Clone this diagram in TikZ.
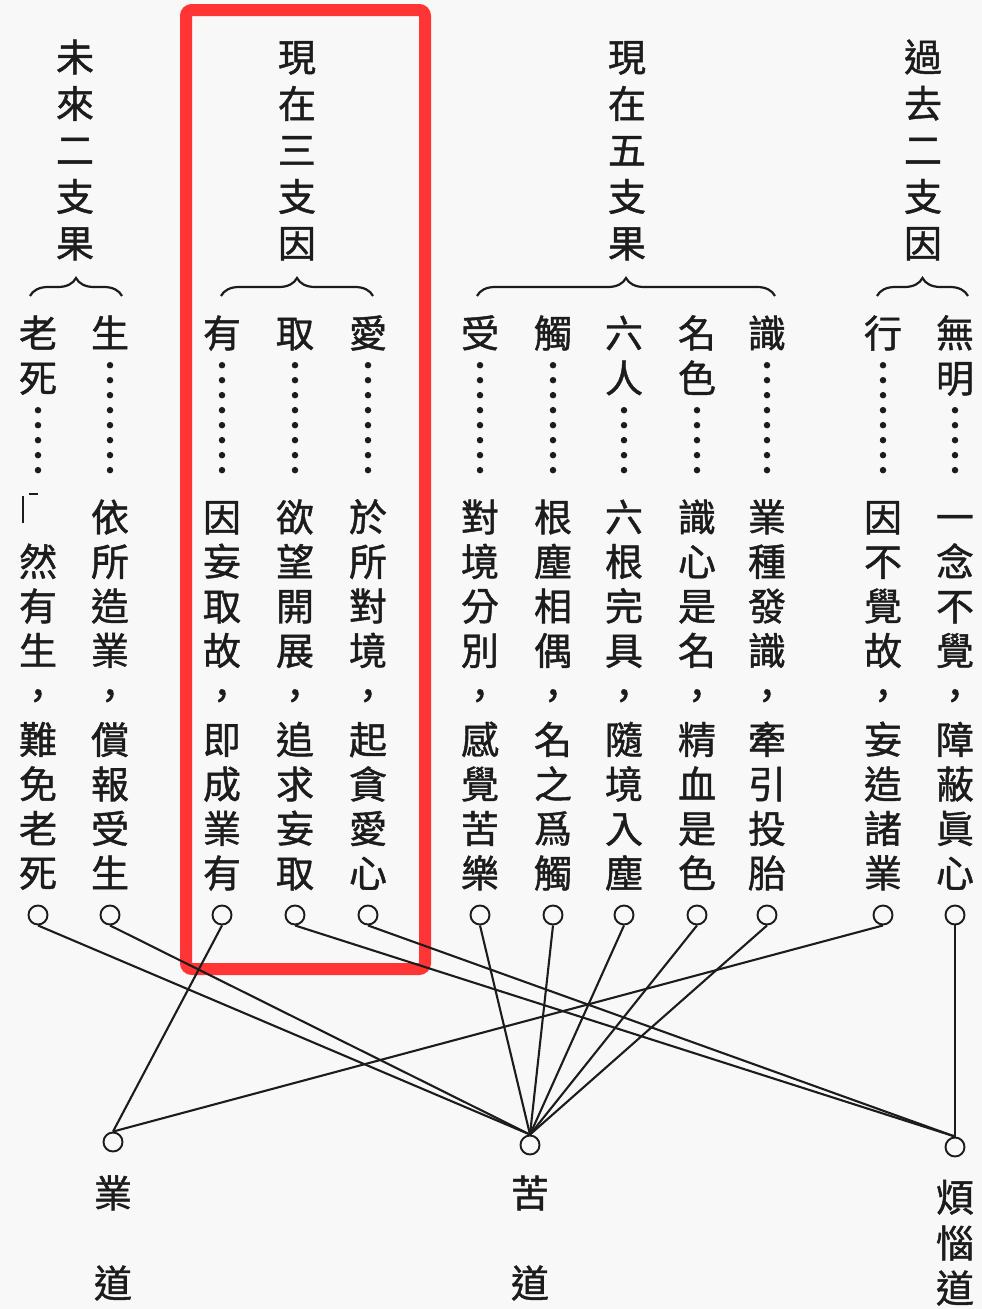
\documentclass[tikz,border=0pt]{standalone}
\usepackage{fontspec}
\newfontfamily\cjk[FakeBold=1.2]{Noto Sans CJK TC}
\usetikzlibrary{decorations.pathreplacing}
\definecolor{dibai}{HTML}{F8F8F8}
\definecolor{mohei}{HTML}{1C1C1C}
\definecolor{hongse}{HTML}{FF3535}
\tikzset{
  zi/.style={inner sep=0pt, text height=33.4pt, text depth=4.6pt, text=mohei, font=\cjk\fontsize{38}{40}\selectfont},
  quan/.style={circle, draw=mohei, line width=1.9pt, minimum size=19pt, inner sep=0pt},
  xian/.style={draw=mohei, line width=2.1pt},
  dian/.style={draw=mohei, line width=6.5pt, line cap=round, dash pattern=on 0pt off 14.99pt},
  kuohao/.style={draw=mohei, line width=2.2pt, decorate, decoration={brace, amplitude=18pt}},
  hongkuang/.style={draw=hongse, line width=12pt, rounded corners=6pt}
}

\begin{document}
\begin{tikzpicture}[x=1pt, y=-1pt]
\fill[dibai] (0,0) rectangle (982,1309);
\useasboundingbox (0,0) rectangle (982,1309);
\draw[hongkuang] (186,10) rectangle (425,969);

% group titles
\foreach \x/\name/\chars in {75/weilai/{未,來,二,支,果}, 297/xianzai/{現,在,三,支,因},
    627/xianwu/{現,在,五,支,果}, 923/guoqu/{過,去,二,支,因}}
  \foreach \c [count=\i] in \chars
    \node[zi] (\name-\i) at (\x,{57+46.5*(\i-1)}) {\c};

% braces
\draw[kuohao] (30,296) -- (122,296);
\draw[kuohao] (221,296) -- (373,296);
\draw[kuohao] (477,296) -- (775,296);
\draw[kuohao] (877,296) -- (968,296);

% twelve links
\foreach \x/\name/\nh/\tou/\wei in {
  955/wuming/2/{無,明}/{一,念,不,覺,，,障,蔽,眞,心},
  883/xing/1/{行}/{因,不,覺,故,，,妄,造,諸,業},
  767/shi/1/{識}/{業,種,發,識,，,牽,引,投,胎},
  697/mingse/2/{名,色}/{識,心,是,名,，,精,血,是,色},
  624/liuru/2/{六,人}/{六,根,完,具,，,隨,境,入,塵},
  553/chu/1/{觸}/{根,塵,相,偶,，,名,之,爲,觸},
  480/shou/1/{受}/{對,境,分,別,，,感,覺,苦,樂},
  368/ai/1/{愛}/{於,所,對,境,，,起,貪,愛,心},
  295/qu/1/{取}/{欲,望,開,展,，,追,求,妄,取},
  222/you/1/{有}/{因,妄,取,故,，,即,成,業,有},
  110/sheng/1/{生}/{依,所,造,業,，,償,報,受,生},
  38/laosi/2/{老,死}/{{},然,有,生,，,難,免,老,死}}{
  \foreach \c [count=\i] in \tou
    \node[zi] (\name-t\i) at (\x,{333+45*(\i-1)}) {\c};
  \foreach \c [count=\i] in \wei
    \node[zi] (\name-w\i) at (\x,{517+44.5*(\i-1)}) {\c};
  \draw[dian] ([yshift=-13pt]\name-t\nh.south) -- ([yshift=13pt]\name-w1.north);
  \node[quan] (\name-o) at (\x,915) {};
}
% broken glyph
\draw[mohei, line width=1.5pt] (23,496) -- (23,523);
\draw[mohei, line width=1.2pt] (29,494) -- (38,494);

% three paths
\node[quan] (ye) at (113,1142) {};
\node[quan] (ku) at (530,1145) {};
\node[quan] (fannao) at (955,1147) {};
\node[zi] (ye-1) at (113,1193) {業};
\node[zi] (ye-2) at (113,1283) {道};
\node[zi] (ku-1) at (530,1193) {苦};
\node[zi] (ku-2) at (530,1283) {道};
\node[zi] (fannao-1) at (955,1197) {煩};
\node[zi] (fannao-2) at (955,1243) {惱};
\node[zi] (fannao-3) at (955,1288) {道};

\draw[xian] (laosi-o.south) -- (ku.north);
\draw[xian] (sheng-o.south) -- (ku.north);
\draw[xian] (you-o.south) -- (ye.north);
\draw[xian] (qu-o.south) -- (fannao.north);
\draw[xian] (ai-o.south) -- (fannao.north);
\foreach \name in {shou,chu,liuru,mingse,shi}
  \draw[xian] (\name-o.south) -- (ku.north);
\draw[xian] (xing-o.south) -- (ye.north);
\draw[xian, line width=1.3pt] (wuming-o.south) -- (fannao.north);
\end{tikzpicture}
\end{document}
